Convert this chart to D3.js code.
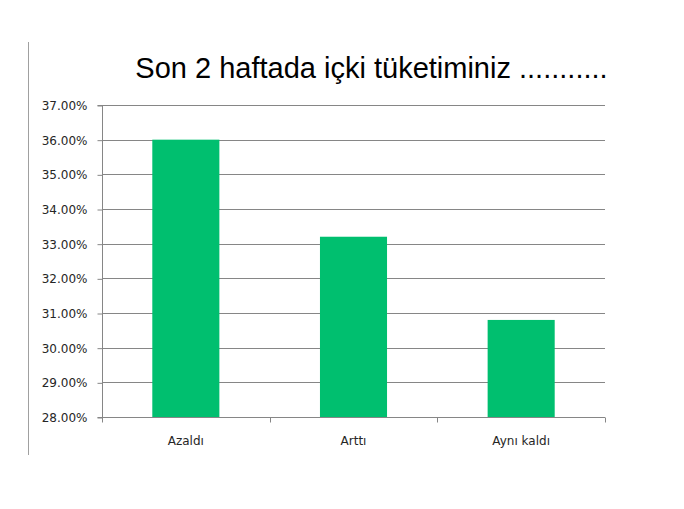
<!DOCTYPE html>
<html><head><meta charset="utf-8">
<script src="https://cdn.jsdelivr.net/npm/d3@7"></script>
<style>body{margin:0;background:#fff}svg{display:block}</style>
</head><body>
<script>
const categories = ["Azaldı", "Arttı", "Aynı kaldı"];
const values = [0.36, 0.332, 0.308];
const yTicks = [0.28,0.29,0.30,0.31,0.32,0.33,0.34,0.35,0.36,0.37];
const title = "Son 2 haftada içki tüketiminiz ...........";

const W = 684, H = 509;
const svg = d3.select("body").append("svg").attr("width", W).attr("height", H);
const mLeft = 102, mRight = 605, mTop = 105, mBottom = 417;
const x = d3.scaleBand().domain(categories).range([mLeft, mRight]).paddingInner(0.6).paddingOuter(0.3);
const y = d3.scaleLinear().domain([0.28, 0.37]).range([mBottom, mTop]);
const grey = "#868686";
const labelFont = "DejaVu Sans, sans-serif";

// left border line
svg.append("line").attr("x1", 28.5).attr("x2", 28.5).attr("y1", 42).attr("y2", 455).attr("stroke", "#a0a0a0");

svg.append("text").attr("x", 371.5).attr("y", 78).attr("text-anchor", "middle")
  .attr("font-family", "Liberation Sans, Arial, sans-serif").attr("font-size", 29).attr("fill", "#000").text(title);

// gridlines
svg.append("g").selectAll("line").data(yTicks.slice(1)).join("line")
  .attr("x1", mLeft).attr("x2", mRight).attr("y1", d => Math.round(y(d)) + 0.5).attr("y2", d => Math.round(y(d)) + 0.5)
  .attr("stroke", grey).attr("stroke-width", 1);

// bars
svg.append("g").selectAll("rect").data(values).join("rect")
  .attr("x", (d, i) => x(categories[i])).attr("width", x.bandwidth())
  .attr("y", d => y(d)).attr("height", d => y(0.28) - y(d)).attr("fill", "#00BF6F");

// y axis
const yAxis = d3.axisLeft(y).tickValues(yTicks).tickFormat(d3.format(".2%")).tickSize(5).tickPadding(10);
const gy = svg.append("g").attr("transform", `translate(${mLeft + 0.5},0.5)`).call(yAxis);
gy.selectAll("path,line").attr("stroke", grey);
gy.select(".domain").attr("d", `M-5,${y(0.37)}H0V${y(0.28)}H-5`);
gy.selectAll("text").attr("font-family", labelFont).attr("font-size", 12).attr("fill", "#262626");

// x axis
const xs = d3.scaleLinear().domain([0, 3]).range([mLeft, mRight]);
const gx = svg.append("g").attr("transform", `translate(0,${Math.round(y(0.28)) + 0.5})`);
gx.append("line").attr("x1", mLeft).attr("x2", mRight).attr("stroke", grey);
gx.selectAll("line.t").data([0, 1, 2, 3]).join("line").attr("class", "t")
  .attr("x1", d => Math.round(xs(d)) + 0.5).attr("x2", d => Math.round(xs(d)) + 0.5).attr("y1", 0).attr("y2", 5).attr("stroke", grey);
gx.selectAll("text").data(categories).join("text")
  .attr("x", d => x(d) + x.bandwidth() / 2).attr("y", 27).attr("text-anchor", "middle")
  .attr("font-family", labelFont).attr("font-size", 12).attr("fill", "#262626").text(d => d);
</script>
</body></html>
